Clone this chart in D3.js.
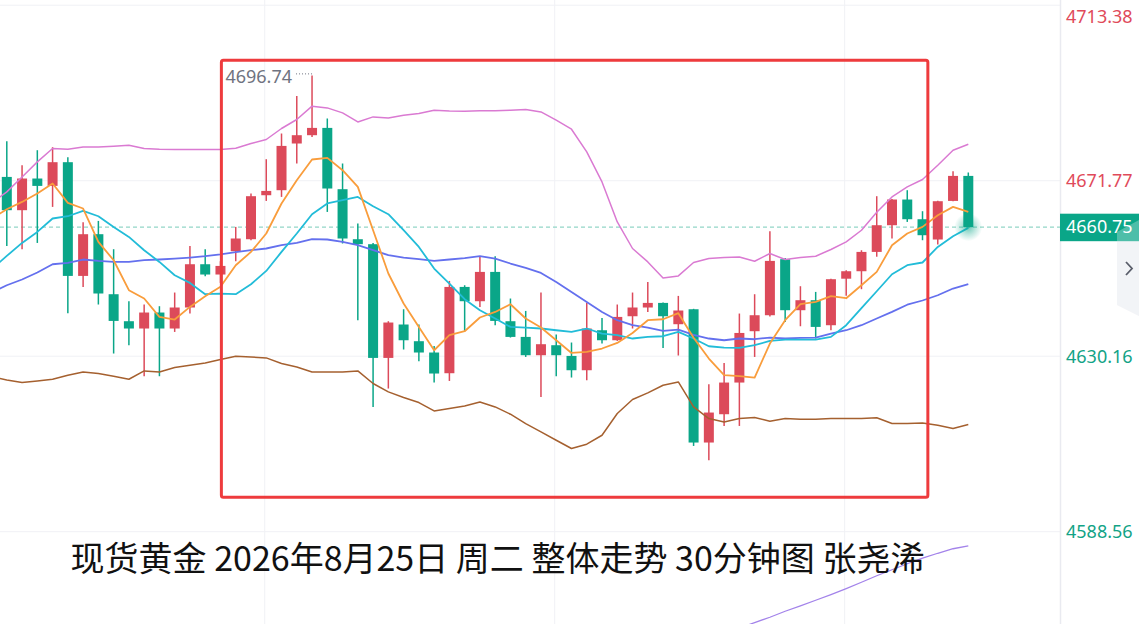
<!DOCTYPE html>
<html>
<head>
<meta charset="utf-8">
<script src="https://cdn.jsdelivr.net/npm/d3@7"></script>
<style>
  body { margin: 0; background: #fff; }
  svg { display: block; }
</style>
</head>
<body>
<svg id="chart" width="1139" height="624"></svg>
<script>
// 30 minute bars (64 bars)
const open = [
  4672.67, 4664.78, 4672.29, 4670.54, 4676.16, 4649.20, 4659.09, 4644.86, 4638.46, 4636.73,
  4640.52, 4636.73, 4641.71, 4651.97, 4649.53, 4655.06, 4657.90, 4668.33, 4669.52, 4680.59,
  4682.56, 4684.29, 4669.76, 4657.90, 4656.72, 4629.76, 4637.68, 4633.72, 4631.04, 4626.13,
  4646.59, 4643.20, 4650.15, 4638.46, 4634.74, 4630.40, 4632.77, 4630.23, 4626.84, 4636.32,
  4633.95, 4639.64, 4641.71, 4642.80, 4637.75, 4641.30, 4609.70, 4616.41, 4623.92, 4636.09,
  4639.88, 4653.16, 4641.07, 4643.44, 4637.51, 4648.54, 4650.31, 4654.89, 4661.22, 4667.31,
  4662.64, 4657.83, 4666.98, 4672.91
];
const high = [
  4681.14, 4675.45, 4679.00, 4679.71, 4677.34, 4661.93, 4662.24, 4655.53, 4643.20, 4642.42,
  4642.02, 4645.26, 4656.31, 4655.53, 4652.68, 4660.82, 4668.74, 4676.87, 4682.96, 4691.88,
  4696.74, 4686.52, 4675.85, 4661.62, 4657.02, 4638.46, 4641.30, 4637.68, 4632.60, 4648.01,
  4646.99, 4653.70, 4653.87, 4643.84, 4640.90, 4645.26, 4635.31, 4633.41, 4642.80, 4639.24,
  4642.42, 4645.26, 4647.78, 4642.89, 4644.46, 4641.40, 4623.52, 4628.57, 4640.28, 4644.86,
  4659.80, 4653.47, 4646.76, 4645.41, 4648.52, 4650.55, 4655.29, 4668.10, 4667.41, 4669.52,
  4664.54, 4667.01, 4674.02, 4673.72
];
const low = [
  4656.31, 4655.53, 4657.02, 4665.56, 4640.36, 4646.59, 4642.42, 4630.80, 4632.77, 4625.42,
  4625.42, 4635.92, 4640.28, 4649.13, 4647.54, 4652.68, 4657.66, 4666.98, 4667.93, 4675.85,
  4682.16, 4664.37, 4656.88, 4638.70, 4618.14, 4622.50, 4631.75, 4628.97, 4623.92, 4624.30,
  4636.16, 4641.85, 4637.51, 4634.59, 4629.99, 4620.51, 4625.42, 4625.11, 4624.47, 4633.17,
  4633.79, 4636.73, 4640.66, 4632.13, 4630.33, 4608.89, 4605.50, 4613.63, 4613.63, 4629.99,
  4639.60, 4638.29, 4637.27, 4634.36, 4636.32, 4644.50, 4646.05, 4653.75, 4658.07, 4662.00,
  4657.66, 4656.64, 4666.90, 4660.75
];
const close = [
  4664.78, 4672.29, 4670.54, 4676.16, 4649.20, 4659.09, 4645.03, 4638.53, 4636.73, 4640.52,
  4636.73, 4641.71, 4651.97, 4649.53, 4651.57, 4658.07, 4668.10, 4669.35, 4680.02, 4682.56,
  4684.29, 4669.92, 4658.07, 4656.72, 4629.76, 4638.15, 4633.95, 4631.04, 4626.06, 4646.59,
  4643.20, 4650.15, 4638.53, 4634.74, 4630.40, 4633.01, 4630.40, 4626.84, 4636.73, 4633.95,
  4639.48, 4641.71, 4642.80, 4639.64, 4641.00, 4609.70, 4616.81, 4623.92, 4635.68, 4639.88,
  4652.76, 4641.07, 4643.44, 4637.11, 4648.42, 4650.31, 4654.89, 4661.22, 4667.31, 4662.64,
  4658.85, 4666.91, 4672.91, 4660.75
];

// indicator lines: first value belongs to the bar just left of the window
const ma5 = [4662.74,
  4665.01, 4666.74, 4668.74, 4671.11, 4666.51, 4665.18, 4657.26, 4652.92, 4645.81, 4643.84,
  4639.48, 4638.86, 4641.85, 4644.39, 4646.64, 4651.74, 4654.89, 4659.25, 4666.37, 4671.89,
  4676.80, 4677.18, 4674.26, 4670.30, 4660.03, 4649.77, 4642.66, 4637.11, 4631.58, 4635.14,
  4636.09, 4639.34, 4640.66, 4642.49, 4639.10, 4636.96, 4633.95, 4630.94, 4631.18, 4631.99,
  4633.31, 4635.68, 4638.70, 4638.93, 4640.36, 4634.55, 4629.61, 4625.66, 4625.42, 4625.11,
  4633.17, 4638.70, 4642.49, 4643.03, 4644.39, 4643.91, 4646.99, 4650.15, 4656.48, 4659.25,
  4660.82, 4663.59, 4665.56, 4664.37
];
const ma10 = [4650.76,
  4653.94, 4657.02, 4659.63, 4662.81, 4663.35, 4664.61, 4663.35, 4660.82, 4658.45, 4655.29,
  4652.52, 4649.37, 4647.54, 4644.86, 4644.98, 4644.86, 4647.23, 4650.38, 4654.89, 4659.25,
  4663.83, 4666.37, 4667.15, 4667.93, 4665.73, 4663.83, 4660.03, 4656.08, 4650.95, 4647.35,
  4643.67, 4641.07, 4639.10, 4637.11, 4636.96, 4636.73, 4636.32, 4635.92, 4636.73, 4635.54,
  4635.14, 4634.36, 4634.74, 4634.90, 4635.92, 4634.36, 4632.53, 4632.22, 4632.13, 4632.77,
  4633.79, 4634.12, 4634.12, 4634.12, 4634.74, 4637.51, 4641.54, 4645.57, 4649.60, 4651.74,
  4652.38, 4656.08, 4658.61, 4660.58
];
const bollMid = [4645.24,
  4646.99, 4648.35, 4650.01, 4651.97, 4652.28, 4653.09, 4652.76, 4652.52, 4652.52, 4652.92,
  4653.09, 4653.32, 4653.56, 4653.87, 4654.30, 4654.82, 4655.29, 4655.70, 4656.48, 4657.02,
  4657.90, 4657.83, 4657.26, 4656.48, 4655.29, 4654.11, 4653.56, 4653.16, 4652.76, 4653.09,
  4653.40, 4653.87, 4653.32, 4652.14, 4651.10, 4649.91, 4647.78, 4645.41, 4643.03, 4640.66,
  4638.70, 4637.51, 4636.96, 4636.16, 4636.49, 4635.21, 4634.36, 4633.95, 4634.36, 4634.19,
  4634.59, 4634.36, 4634.50, 4634.59, 4635.54, 4636.32, 4637.51, 4639.10, 4640.66, 4642.37,
  4643.37, 4644.62, 4646.21, 4647.23
];
const bollUp = [4666.46,
  4669.12, 4672.67, 4676.23, 4679.41, 4679.24, 4679.79, 4679.79, 4679.95, 4680.19, 4679.41,
  4679.24, 4679.17, 4679.17, 4679.17, 4679.17, 4679.48, 4680.59, 4681.54, 4684.15, 4686.28,
  4689.44, 4689.03, 4687.85, 4685.71, 4686.90, 4686.66, 4687.30, 4687.70, 4688.49, 4688.32,
  4688.25, 4688.37, 4688.37, 4688.49, 4688.65, 4688.08, 4686.12, 4683.98, 4678.60, 4671.49,
  4662.00, 4655.70, 4652.52, 4648.72, 4649.20, 4652.38, 4653.32, 4653.56, 4653.70, 4652.68,
  4654.51, 4653.09, 4653.56, 4653.87, 4655.46, 4657.26, 4660.03, 4664.30, 4667.93, 4670.30,
  4672.06, 4675.45, 4679.00, 4680.43
];
const bollDn = [4625.28,
  4624.54, 4623.92, 4624.30, 4624.71, 4625.66, 4626.44, 4626.06, 4625.42, 4624.71, 4626.67,
  4626.44, 4627.48, 4628.03, 4628.57, 4629.38, 4630.16, 4629.99, 4629.76, 4628.43, 4627.62,
  4626.44, 4626.44, 4626.44, 4626.67, 4623.69, 4621.70, 4620.37, 4619.18, 4617.19, 4617.76,
  4618.38, 4619.32, 4618.14, 4616.41, 4614.20, 4612.21, 4610.24, 4608.28, 4609.30, 4611.43,
  4616.57, 4619.89, 4621.46, 4623.28, 4624.07, 4618.14, 4615.39, 4614.58, 4615.39, 4615.63,
  4614.75, 4615.39, 4615.22, 4615.22, 4615.39, 4615.39, 4615.39, 4615.58, 4614.20, 4614.20,
  4614.35, 4613.80, 4613.02, 4613.97
];
// long average, only its last part is inside the window
const ma60 = [null,
  null, null, null, null, null, null, null, null, null, null,
  null, null, null, null, null, null, null, null, null, null,
  null, null, null, null, null, null, null, null, null, null,
  null, null, null, null, null, null, null, null, null, null,
  null, null, null, null, null, null, null, null, 4565.67, 4567.02,
  4568.28, 4569.70, 4571.00, 4572.31, 4573.66, 4575.08, 4576.58, 4578.12, 4579.54, 4580.96,
  4582.27, 4583.45, 4584.52, 4585.18
];

const yTicks = [4588.56, 4630.16, 4671.77, 4713.38];
const gridBars = [16.9, 35.9, 54.9];
const lastPrice = 4660.75;
const title = "现货黄金 2026年8月25日 周二 整体走势 30分钟图 张尧浠";
// hand drawn box: bar range and price range
const boxBars = [14.06, 60.35];
const boxPrices = [4700.3, 4596.7];

const UP = "#dc4a5a", DOWN = "#0aa688";
const W = 1139, H = 624, plotW = 1060;

const svg = d3.select("#chart");

const x = d3.scaleLinear().domain([0, open.length - 1]).range([6.8, 968.3]);
const y = d3.scaleLinear().domain([4588.56, 4713.38]).range([531.7, 5.2]);

const defs = svg.append("defs");
defs.append("clipPath").attr("id", "plot-clip")
  .append("rect").attr("width", plotW).attr("height", H);
const grad = defs.append("radialGradient").attr("id", "pulse");
grad.append("stop").attr("offset", "0%").attr("stop-color", DOWN).attr("stop-opacity", 0.6);
grad.append("stop").attr("offset", "55%").attr("stop-color", DOWN).attr("stop-opacity", 0.25);
grad.append("stop").attr("offset", "100%").attr("stop-color", DOWN).attr("stop-opacity", 0);

// grid
const grid = svg.append("g");
grid.selectAll("line.h").data(yTicks).join("line")
  .attr("x1", 0).attr("x2", plotW)
  .attr("y1", d => y(d)).attr("y2", d => y(d))
  .attr("stroke", "#f0f1f5").attr("stroke-width", 1);
grid.selectAll("line.v").data(gridBars).join("line")
  .attr("x1", d => x(d)).attr("x2", d => x(d))
  .attr("y1", 0).attr("y2", H)
  .attr("stroke", "#f0f1f5").attr("stroke-width", 1);

// right axis border
svg.append("line").attr("x1", plotW + 0.5).attr("x2", plotW + 0.5)
  .attr("y1", 0).attr("y2", H).attr("stroke", "#e9eaf0").attr("stroke-width", 1.5);

const plot = svg.append("g").attr("clip-path", "url(#plot-clip)");

// last price dashed line
plot.append("line")
  .attr("x1", 0).attr("x2", plotW)
  .attr("y1", y(lastPrice)).attr("y2", y(lastPrice))
  .attr("stroke", "#93d6c8").attr("stroke-width", 1.3)
  .attr("stroke-dasharray", "4,3");

// candles
const bars = d3.range(open.length);
const bodyW = 10;
const candles = plot.append("g").selectAll("g").data(bars).join("g")
  .attr("fill", i => close[i] >= open[i] ? UP : DOWN)
  .attr("stroke", i => close[i] >= open[i] ? UP : DOWN);
candles.append("line")
  .attr("x1", i => x(i)).attr("x2", i => x(i))
  .attr("y1", i => y(high[i])).attr("y2", i => y(low[i]))
  .attr("stroke-width", 1.5);
candles.append("rect")
  .attr("x", i => x(i) - bodyW / 2)
  .attr("width", bodyW)
  .attr("y", i => y(Math.max(open[i], close[i])))
  .attr("height", i => Math.max(1, Math.abs(y(open[i]) - y(close[i]))))
  .attr("stroke", "none");

// indicator lines (index shifted by one for the leading off-screen value)
const line = d3.line()
  .defined(d => d != null)
  .x((d, i) => x(i - 1))
  .y(d => y(d));
const series = [
  { values: bollUp, color: "#da7ad2", width: 1.5 },
  { values: bollDn, color: "#a5602f", width: 1.5 },
  { values: bollMid, color: "#6470ee", width: 1.8 },
  { values: ma10, color: "#22bcd8", width: 1.8 },
  { values: ma5, color: "#f99d3c", width: 1.8 },
  { values: ma60, color: "#a383ea", width: 1.3 }
];
plot.append("g").selectAll("path").data(series).join("path")
  .attr("d", d => line(d.values))
  .attr("fill", "none")
  .attr("stroke", d => d.color)
  .attr("stroke-width", d => d.width)
  .attr("stroke-linejoin", "round");

// glow on the last bar
const last = open.length - 1;
plot.append("circle")
  .attr("cx", x(last)).attr("cy", y(close[last])).attr("r", 14)
  .attr("fill", "url(#pulse)");

// hand drawn red box
svg.append("rect")
  .attr("x", x(boxBars[0])).attr("y", y(boxPrices[0]))
  .attr("width", x(boxBars[1]) - x(boxBars[0]))
  .attr("height", y(boxPrices[1]) - y(boxPrices[0]))
  .attr("rx", 2)
  .attr("fill", "none").attr("stroke", "#ee3b3d").attr("stroke-width", 3);

// highest price mark
const maxHigh = d3.max(high);
const maxIdx = high.indexOf(maxHigh);
svg.append("line")
  .attr("x1", x(maxIdx) - 16).attr("x2", x(maxIdx))
  .attr("y1", y(maxHigh) - 1.5).attr("y2", y(maxHigh) - 1.5)
  .attr("stroke", "#6f7380").attr("stroke-width", 1)
  .attr("stroke-dasharray", "1,2");
svg.append("text")
  .attr("x", x(maxIdx) - 20).attr("y", y(maxHigh) + 8)
  .attr("text-anchor", "end")
  .attr("font-family", "'Noto Sans', sans-serif").attr("font-size", 18)
  .attr("fill", "#6f7380")
  .text(maxHigh.toFixed(2));

// price axis labels
svg.append("g").selectAll("text").data(yTicks).join("text")
  .attr("x", plotW + 6)
  .attr("y", d => Math.max(y(d), 17))
  .attr("dy", "0.35em")
  .attr("font-family", "'Noto Sans', sans-serif").attr("font-size", 18)
  .attr("fill", d => d > lastPrice ? "#e04a5a" : "#12a386")
  .text(d => d.toFixed(2));

// last price tag
svg.append("rect")
  .attr("x", plotW).attr("y", y(lastPrice) - 13.5)
  .attr("width", W - plotW).attr("height", 27.5)
  .attr("fill", DOWN);
svg.append("text")
  .attr("x", plotW + 6).attr("y", y(lastPrice))
  .attr("dy", "0.35em")
  .attr("font-family", "'Noto Sans', sans-serif").attr("font-size", 18)
  .attr("fill", "#fff")
  .text(lastPrice.toFixed(2));

// collapse tab on the right edge
const tab = [[1117, 232], [1139, 220], [1139, 316], [1117, 305]];
svg.append("polygon").attr("points", tab.join(" "))
  .attr("fill", "#eceef3").attr("opacity", 0.9)
  .lower();
svg.append("polygon").attr("points", tab.join(" "))
  .attr("fill", "#fff").attr("opacity", 0.28);
svg.append("path")
  .attr("d", "M1126,262 L1132,268.5 L1126,275")
  .attr("fill", "none").attr("stroke", "#5a5e6a").attr("stroke-width", 1.8);

// caption
svg.append("text")
  .attr("x", 497.5).attr("y", 571)
  .attr("text-anchor", "middle")
  .attr("font-family", "'Noto Sans CJK SC', sans-serif").attr("font-size", 34)
  .attr("fill", "#111")
  .text(title);
</script>
</body>
</html>
